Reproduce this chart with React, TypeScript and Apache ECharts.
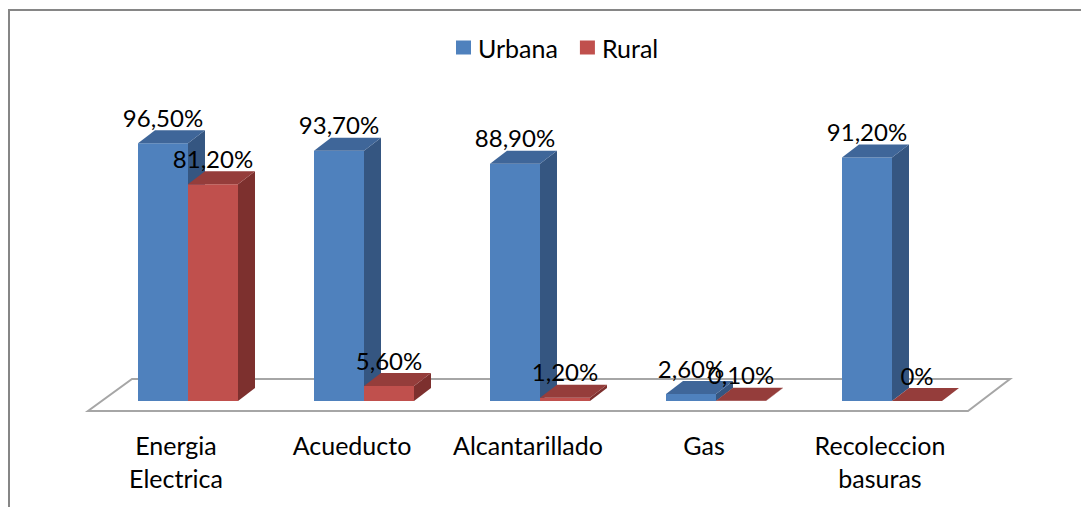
import React, { useEffect, useRef } from "react";
import * as echarts from "echarts";

const categories = ["Energia Electrica", "Acueducto", "Alcantarillado", "Gas", "Recoleccion basuras"];
const urbana = [96.5, 93.7, 88.9, 2.6, 91.2];
const rural = [81.2, 5.6, 1.2, 0.1, 0];

const FONT = "Lato, 'Noto Sans', sans-serif";
const BAR_W = 50;
const DX = 17;
const DY = 13;

const BLUE = { front: "#4F81BD", top: "#3F6699", side: "#355681" };
const RED = { front: "#C0504D", top: "#953D3B", side: "#7D302E" };

const fmt = (v: number) => (v === 0 ? "0%" : v.toFixed(2).replace(".", ",") + "%");

function makeRender(offset: number, c: { front: string; top: string; side: string }) {
  return (params: any, api: any) => {
    const idx = api.value(0);
    const val = api.value(1);
    const top = api.coord([idx, val]);
    const base = api.coord([idx, 0]);
    const x0 = top[0] + offset;
    const x1 = x0 + BAR_W;
    const yT = top[1];
    const yB = base[1];
    const children: any[] = [];
    if (yB - yT > 0.1) {
      children.push({
        type: "rect",
        shape: { x: x0, y: yT, width: BAR_W, height: yB - yT },
        style: { fill: c.front },
      });
      children.push({
        type: "polygon",
        shape: { points: [[x1, yT], [x1 + DX, yT - DY], [x1 + DX, yB - DY], [x1, yB]] },
        style: { fill: c.side },
      });
    }
    children.push({
      type: "polygon",
      shape: { points: [[x0, yT], [x1, yT], [x1 + DX, yT - DY], [x0 + DX, yT - DY]] },
      style: { fill: c.top },
    });
    children.push({
      type: "text",
      style: {
        text: fmt(val),
        x: (x0 + x1) / 2,
        y: yT - DY - 1,
        align: "center",
        verticalAlign: "bottom",
        fontSize: 24,
        fontFamily: FONT,
        fill: "#000",
      },
    });
    return { type: "group", children };
  };
}

export default function App() {
  const ref = useRef<HTMLDivElement>(null);
  useEffect(() => {
    if (!ref.current) return;
    const chart = echarts.init(ref.current, undefined, { renderer: "svg" });
    chart.setOption({
      animation: false,
      backgroundColor: "#fff",
      grid: { left: 88, right: 113, top: 134, bottom: 106 },
      legend: {
        data: ["Urbana", "Rural"],
        left: 456,
        top: 35,
        padding: 0,
        icon: "rect",
        itemWidth: 15,
        itemHeight: 14,
        itemGap: 22,
        textStyle: { fontSize: 25, fontFamily: FONT, color: "#000", padding: [0, 0, 0, 2] },
      },
      graphic: [
        {
          type: "rect",
          z: 0,
          shape: { x: 9, y: 10, width: 1200, height: 600 },
          style: { fill: "none", stroke: "#868686", lineWidth: 2 },
        },
        {
          type: "polygon",
          z: 0,
          shape: { points: [[88, 411], [968, 411], [1010, 379], [132, 379]] },
          style: { fill: "#fff", stroke: "#a6a6a6", lineWidth: 2 },
        },
      ],
      xAxis: {
        type: "category",
        data: categories,
        axisLine: { show: false },
        axisTick: { show: false },
        splitLine: { show: false },
        axisLabel: {
          margin: 27,
          fontSize: 25,
          lineHeight: 33,
          fontFamily: FONT,
          color: "#000",
          interval: 0,
          formatter: (v: string) => v.replace(" ", "\n"),
        },
      },
      yAxis: { type: "value", min: 0, max: 100, show: false },
      series: [
        {
          name: "Urbana",
          type: "custom",
          z: 5,
          itemStyle: { color: BLUE.front },
          renderItem: makeRender(-38, BLUE),
          data: urbana.map((v, i) => [i, v]),
        },
        {
          name: "Rural",
          type: "custom",
          z: 5,
          itemStyle: { color: RED.front },
          renderItem: makeRender(12, RED),
          data: rural.map((v, i) => [i, v]),
        },
      ],
    });
    return () => chart.dispose();
  }, []);
  return (
    <div
      ref={ref}
      style={{ position: "absolute", left: 0, top: 0, width: 1081, height: 507 }}
    />
  );
}
